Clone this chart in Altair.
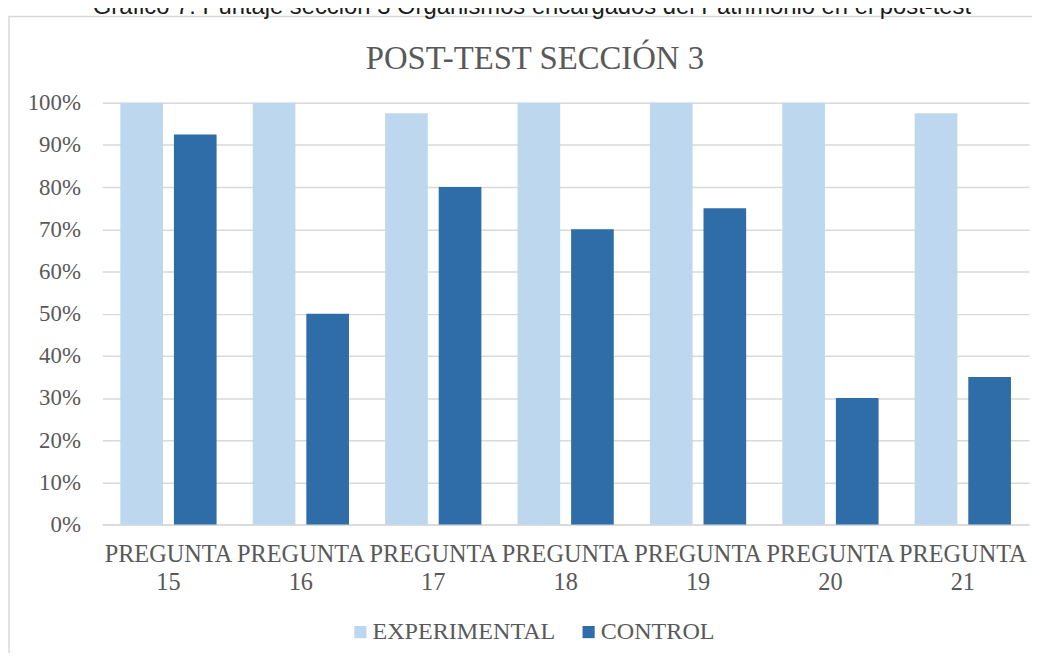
import altair as alt
import pandas as pd

categorias = ["PREGUNTA 15", "PREGUNTA 16", "PREGUNTA 17", "PREGUNTA 18",
              "PREGUNTA 19", "PREGUNTA 20", "PREGUNTA 21"]
series = ["EXPERIMENTAL", "CONTROL"]
experimental = [1.00, 1.00, 0.975, 1.00, 1.00, 1.00, 0.975]
control = [0.925, 0.50, 0.80, 0.70, 0.75, 0.30, 0.35]
colores = ["#BDD7EE", "#2E6DA8"]
titulo = "POST-TEST SECCIÓN 3"
leyenda_superior = "Gráfico 7: Puntaje sección 3 Organismos encargados del Patrimonio en el post-test"

rows = []
for c, e, k in zip(categorias, experimental, control):
    rows.append({"pregunta": c, "serie": series[0], "valor": e})
    rows.append({"pregunta": c, "serie": series[1], "valor": k})
df = pd.DataFrame(rows)

SERIF = "Liberation Serif"
GRAY = "#595959"
W, H = 934, 425

one = pd.DataFrame({"a": [0]})

border = alt.Chart(one).mark_rect(
    fillOpacity=0, stroke="#d9d9d9", strokeWidth=1.5
).encode(
    x=alt.value(-94), x2=alt.value(960), y=alt.value(-87), y2=alt.value(600)
)

caption = alt.Chart(pd.DataFrame({"t": [leyenda_superior]})).mark_text(
    font="Liberation Sans", fontSize=24, color="#1a1a1a", align="center", baseline="alphabetic"
).encode(x=alt.value(433), y=alt.value(-89), text="t:N")

title = alt.Chart(pd.DataFrame({"t": [titulo]})).mark_text(
    font=SERIF, fontSize=33, color=GRAY, align="center", baseline="alphabetic"
).encode(x=alt.value(436), y=alt.value(-34), text="t:N")

bars = alt.Chart(df).mark_bar().encode(
    x=alt.X("pregunta:N", sort=categorias, title=None,
            scale=alt.Scale(paddingInner=0.273, paddingOuter=0.1365),
            axis=alt.Axis(labelExpr="split(datum.label, ' ')", labelAngle=0,
                          labelFont=SERIF, labelFontSize=24.5, labelColor=GRAY,
                          labelLineHeight=29, labelPadding=18, labelLimit=0,
                          labelOverlap=False, ticks=False, domain=True,
                          domainColor="#d9d9d9", domainWidth=1.5, grid=False,
                          labelBaseline="top")),
    xOffset=alt.XOffset("serie:N", sort=series, scale=alt.Scale(paddingInner=0.204)),
    y=alt.Y("valor:Q", title=None,
            scale=alt.Scale(domain=[0, 1], nice=False),
            axis=alt.Axis(format=".0%", values=[i / 10 for i in range(11)],
                          labelFont=SERIF, labelFontSize=23, labelColor=GRAY,
                          labelPadding=22, ticks=False, domain=False,
                          gridColor="#d9d9d9", gridWidth=1.5)),
    color=alt.Color("serie:N", sort=series,
                    scale=alt.Scale(domain=series, range=colores),
                    legend=alt.Legend(title=None, orient="none", direction="horizontal",
                                      legendX=248, legendY=521,
                                      symbolType="square", symbolSize=150,
                                      symbolStrokeWidth=0, labelLimit=0,
                                      labelFont=SERIF, labelFontSize=24.3, labelColor=GRAY,
                                      labelOffset=0, columnPadding=21)),
)

chart = alt.layer(border, caption, title, bars).properties(
    width=W, height=H,
    autosize="none",
    padding={"left": 95, "top": 93, "right": 3, "bottom": 127},
    background="white",
).configure_view(stroke=None)

chart.save("out.html", embed_options={"renderer": "svg", "actions": False})
